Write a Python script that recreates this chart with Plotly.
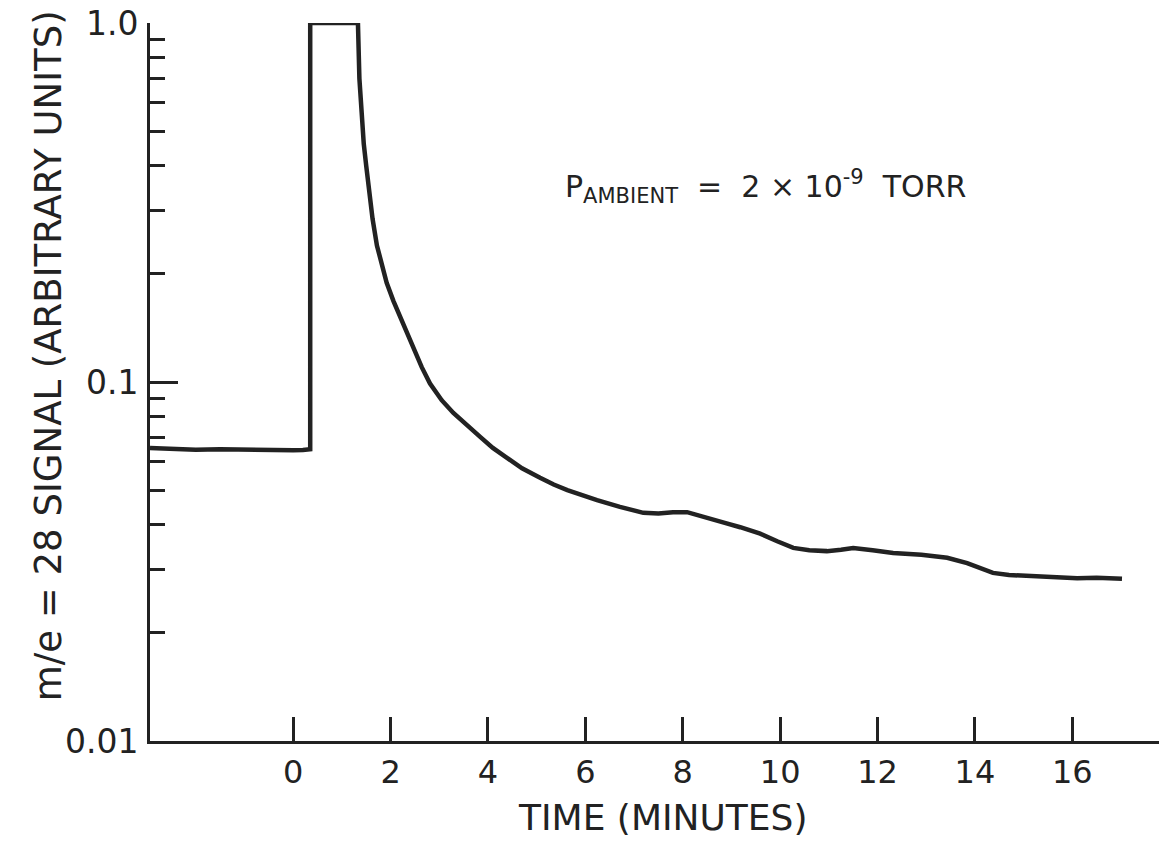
import plotly.graph_objects as go

# ---- data ----
time_min = [-2.94, -2.5, -2.0, -1.5, -1.0, -0.5, 0.0, 0.2, 0.35, 0.35, 1.33,
            1.36, 1.40, 1.45, 1.50, 1.56, 1.63, 1.72, 1.82, 1.92, 2.06, 2.20, 2.33,
            2.47, 2.64, 2.81, 3.05, 3.29, 3.55, 3.84, 4.10, 4.39, 4.70, 5.07,
            5.35, 5.63, 5.95, 6.24, 6.71, 7.19, 7.50, 7.80, 8.09, 8.35, 8.62,
            8.90, 9.18, 9.59, 9.94, 10.27, 10.60, 10.96, 11.25, 11.50, 11.90,
            12.32, 12.90, 13.43, 13.84, 14.10, 14.37, 14.70, 15.07, 15.60,
            16.10, 16.50, 16.78, 17.02]
signal = [0.0655, 0.0650, 0.0648, 0.0650, 0.0647, 0.0646, 0.0645, 0.0647, 0.0650,
          1.0, 1.0,
          0.70, 0.55, 0.46, 0.40, 0.34, 0.285, 0.240, 0.210, 0.189, 0.168, 0.151, 0.137,
          0.124, 0.110, 0.0990, 0.0890, 0.0820, 0.0760, 0.0703, 0.0655, 0.0614, 0.0575,
          0.0541, 0.0518, 0.0500, 0.0483, 0.0469, 0.0449, 0.0432, 0.0430, 0.0434,
          0.0434, 0.0425, 0.0413, 0.0404, 0.0394, 0.0378, 0.0360, 0.0345, 0.0340,
          0.0338, 0.0341, 0.0345, 0.0340, 0.0334, 0.0330, 0.0324, 0.0313, 0.0303,
          0.0294, 0.0290, 0.0288, 0.0286, 0.0284, 0.0285, 0.0284, 0.0283]

x_tick_vals = [0, 2, 4, 6, 8, 10, 12, 14, 16]
x_tick_text = ["0", "2", "4", "6", "8", "10", "12", "14", "16"]
x_long_tick = [0]
y_tick_vals = [0.01, 0.1, 1.0]
y_tick_text = ["0.01", "0.1", "1.0"]
x_range = [-2.94, 17.78]

INK = "#222222"
FONT = "DejaVu Sans"

fig = go.Figure()
fig.add_trace(go.Scatter(
    x=time_min, y=signal, mode="lines",
    line=dict(color=INK, width=4.5),
    cliponaxis=False, showlegend=False, hoverinfo="skip"))

fig.update_layout(
    width=1159, height=841,
    margin=dict(l=150, r=0, t=23, b=100),
    paper_bgcolor="white", plot_bgcolor="white",
    showlegend=False,
    xaxis=dict(
        range=x_range, showgrid=False, zeroline=False,
        showline=True, linewidth=3, linecolor=INK,
        ticks="inside", ticklen=24, tickwidth=2.5, tickcolor=INK,
        tickvals=x_tick_vals, ticktext=x_tick_text,
        tickfont=dict(family=FONT, size=32, color=INK),
        ticklabelstandoff=1,
    ),
    xaxis2=dict(
        overlaying="x", matches="x", anchor="y", side="bottom",
        showgrid=False, zeroline=False, showline=False,
        ticks="inside", ticklen=41, tickwidth=2.5, tickcolor=INK,
        tickvals=x_long_tick, showticklabels=False,
    ),
    yaxis=dict(
        type="log", range=[-2, 0], showgrid=False, zeroline=False,
        showline=True, linewidth=3, linecolor=INK,
        ticks="inside", ticklen=28, tickwidth=2.5, tickcolor=INK,
        tickvals=y_tick_vals, ticktext=y_tick_text,
        tickfont=dict(family=FONT, size=33, color=INK),
        ticklabelstandoff=2,
        minor=dict(ticks="inside", ticklen=15, tickwidth=2.5, tickcolor=INK,
                   dtick="D1", showgrid=False),
    ),
    annotations=[
        dict(text="TIME (MINUTES)", xref="paper", yref="paper",
             x=0.508, y=-0.107, xanchor="center", yanchor="middle",
             showarrow=False, font=dict(family=FONT, size=36, color=INK)),
        dict(text="m/e = 28 SIGNAL (ARBITRARY UNITS)", xref="paper", yref="paper",
             x=-0.101, y=0.536, xanchor="center", yanchor="middle", textangle=-90,
             showarrow=False, font=dict(family=FONT, size=37, color=INK)),
        dict(text="P<sub>AMBIENT</sub>  =  2 × 10<sup>-9</sup>  TORR",
             xref="paper", yref="paper", x=0.61, y=0.772,
             xanchor="center", yanchor="middle",
             showarrow=False, font=dict(family=FONT, size=30, color=INK)),
    ],
)

fig.write_html("out.html")
